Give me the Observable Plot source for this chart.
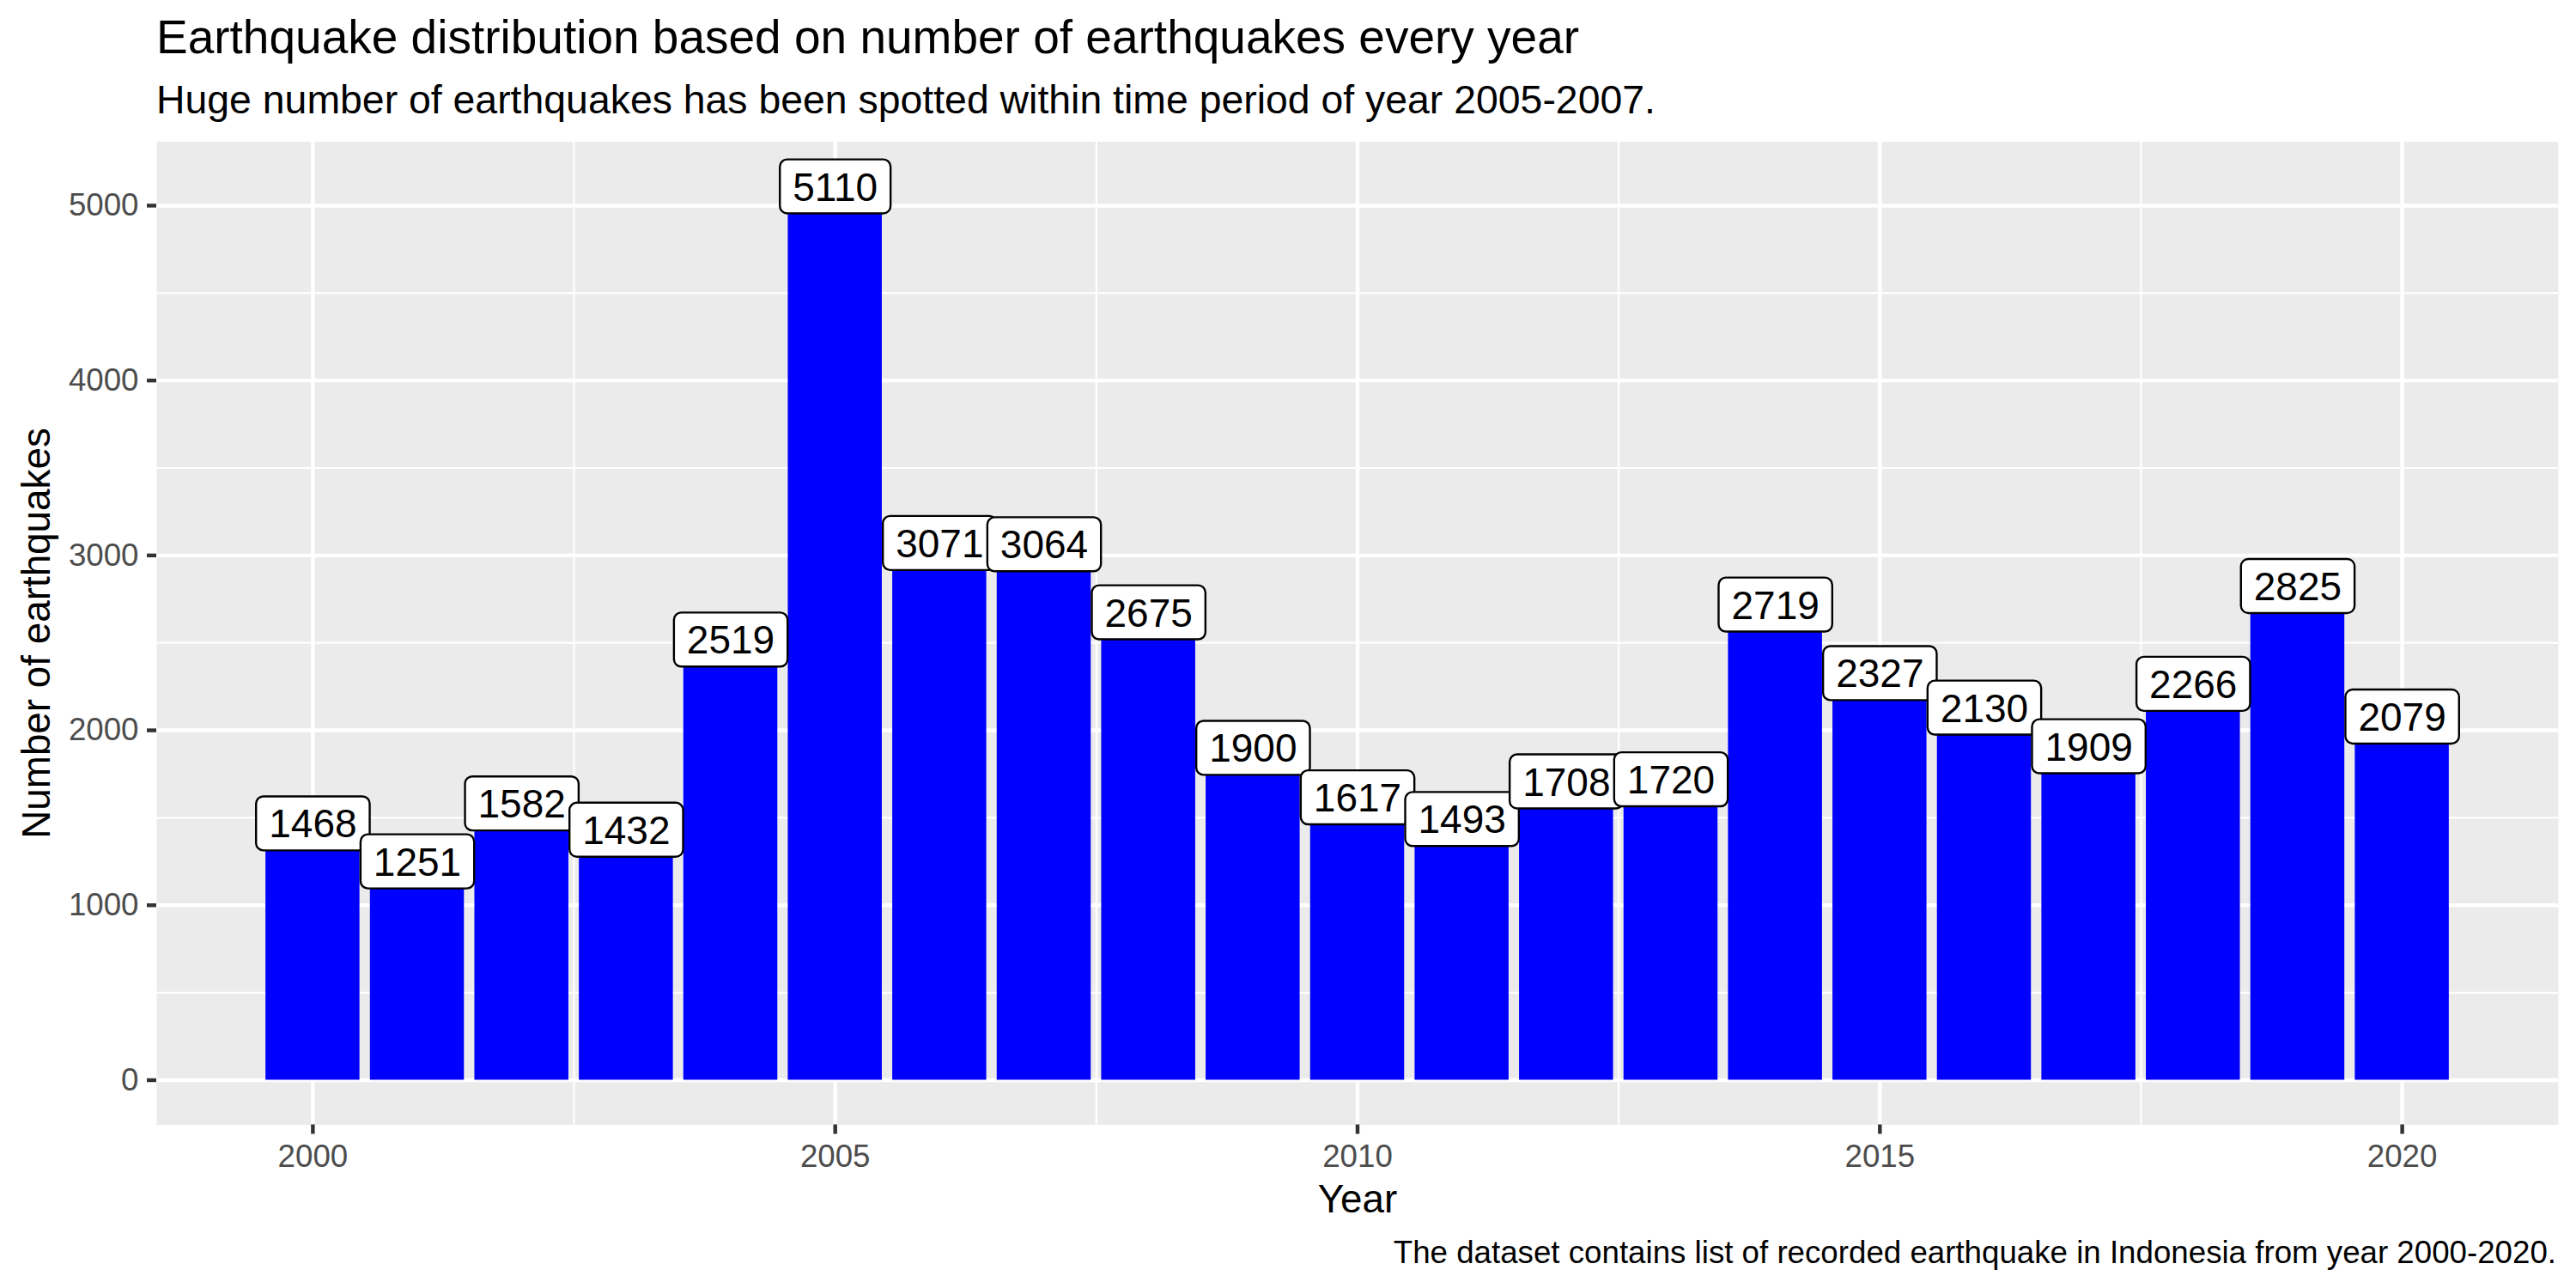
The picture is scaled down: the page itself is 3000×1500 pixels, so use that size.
<!DOCTYPE html>
<html>
<head>
<meta charset="utf-8">
<script src="https://cdn.jsdelivr.net/npm/d3@7"></script>
<script src="https://cdn.jsdelivr.net/npm/@observablehq/plot@0.6"></script>
<style>
html, body { margin: 0; padding: 0; background: #ffffff; }
#wrap { position: relative; width: 3000px; height: 1500px; background: #ffffff;
        font-family: "Liberation Sans", Arial, sans-serif; color: #000000; overflow: hidden; }
.t { position: absolute; white-space: nowrap; }
#title { left: 182px; top: 16.4px; font-size: 55px; line-height: 55px; }
#subtitle { left: 182px; top: 92.7px; font-size: 46.4px; line-height: 46.4px; }
#chart { position: absolute; left: 0; top: 150px; }
#caption { right: 23px; top: 1440.9px; font-size: 36.7px; line-height: 36.7px; text-align: right; }
</style>
</head>
<body>
<div id="wrap">
  <div id="title" class="t"></div>
  <div id="subtitle" class="t"></div>
  <div id="chart"></div>
  <div id="caption" class="t"></div>
</div>
<script>
// ---- data ----
const years = [2000, 2001, 2002, 2003, 2004, 2005, 2006, 2007, 2008, 2009, 2010,
               2011, 2012, 2013, 2014, 2015, 2016, 2017, 2018, 2019, 2020];
const counts = [1468, 1251, 1582, 1432, 2519, 5110, 3071, 3064, 2675, 1900, 1617,
                1493, 1708, 1720, 2719, 2327, 2130, 1909, 2266, 2825, 2079];
const xTicks = [2000, 2005, 2010, 2015, 2020];
const xTickLabels = ["2000", "2005", "2010", "2015", "2020"];
const xMinor = [2002.5, 2007.5, 2012.5, 2017.5];
const yTicks = [0, 1000, 2000, 3000, 4000, 5000];
const yTickLabels = ["0", "1000", "2000", "3000", "4000", "5000"];
const yMinor = [500, 1500, 2500, 3500, 4500];

const titleText = "Earthquake distribution based on number of earthquakes every year";
const subtitleText = "Huge number of earthquakes has been spotted within time period of year 2005-2007.";
const captionText = "The dataset contains list of recorded earthquake in Indonesia from year 2000-2020.";
const xTitle = "Year";
const yTitle = "Number of earthquakes";

document.getElementById("title").textContent = titleText;
document.getElementById("subtitle").textContent = subtitleText;
document.getElementById("caption").textContent = captionText;

const table = years.map((year, i) => ({year, count: counts[i], label: String(counts[i])}));

// ggplot-like scale expansion (5%)
const barHalf = 0.45;
const xLo = d3.min(years) - barHalf, xHi = d3.max(years) + barHalf;
const xPad = (xHi - xLo) * 0.05;
const yMax = d3.max(counts);
const yPad = yMax * 0.05;

const fontFamily = '"Liberation Sans", Arial, sans-serif';
const labelFs = 46;
const labelPad = 15;
const svgNS = "http://www.w3.org/2000/svg";
const ctx = document.createElement("canvas").getContext("2d");
ctx.font = `${labelFs}px "Liberation Sans", Arial, sans-serif`;

function labelBoxes(index, scales, values, dimensions, context, next) {
  const g = next(index, scales, values, dimensions, context);
  const texts = Array.from(g.querySelectorAll("text"));
  texts.forEach((t, j) => {
    const i = index[j];
    const w = ctx.measureText(table[i].label).width + 2 * labelPad;
    const h = labelFs * 0.716 + 2 * labelPad;
    const r = document.createElementNS(svgNS, "rect");
    r.setAttribute("x", values.x[i] - w / 2);
    r.setAttribute("y", values.y[i] - h / 2);
    r.setAttribute("width", w);
    r.setAttribute("height", h);
    r.setAttribute("rx", 8.5);
    r.setAttribute("ry", 8.5);
    r.setAttribute("fill", "#ffffff");
    r.setAttribute("stroke", "#000000");
    r.setAttribute("stroke-width", 2.4);
    t.setAttribute("y", (labelFs * 0.358).toFixed(2));
    t.parentNode.insertBefore(r, t);
  });
  return g;
}

const chart = Plot.plot({
  width: 3000,
  height: 1290,
  marginLeft: 182,
  marginRight: 21,
  marginTop: 14.5,
  marginBottom: 130.5,
  style: {fontFamily, background: "transparent", overflow: "visible"},
  x: {type: "linear", domain: [xLo - xPad, xHi + xPad], nice: false},
  y: {type: "linear", domain: [-yPad, yMax + yPad], nice: false},
  marks: [
    Plot.frame({fill: "#EBEBEB", stroke: "none"}),
    Plot.ruleY(yMinor, {stroke: "#ffffff", strokeWidth: 2.22}),
    Plot.ruleX(xMinor, {stroke: "#ffffff", strokeWidth: 2.22}),
    Plot.ruleY(yTicks, {stroke: "#ffffff", strokeWidth: 4.44}),
    Plot.ruleX(xTicks, {stroke: "#ffffff", strokeWidth: 4.44}),
    Plot.rect(table, {
      x1: d => d.year - barHalf, x2: d => d.year + barHalf,
      y1: 0, y2: "count", fill: "#0000FF"
    }),
    Plot.text(table, {
      x: "year", y: "count", text: "label",
      fontSize: labelFs, fill: "#000000", lineAnchor: "bottom",
      render: labelBoxes
    }),
    Plot.axisX({
      ticks: xTicks, tickFormat: d => xTickLabels[xTicks.indexOf(d)],
      tickSize: 11, tickPadding: 12, fontSize: 36.7,
      stroke: "#333333", strokeWidth: 4.44, fill: "#4D4D4D", label: null
    }),
    Plot.axisY({
      ticks: yTicks, tickFormat: d => yTickLabels[yTicks.indexOf(d)],
      tickSize: 11, tickPadding: 10, fontSize: 36.7,
      stroke: "#333333", strokeWidth: 4.44, fill: "#4D4D4D", label: null
    }),
    Plot.text([xTitle], {
      frameAnchor: "bottom", dy: 101.5, lineAnchor: "bottom",
      fontSize: 45.8, fill: "#000000"
    }),
    Plot.text([yTitle], {
      frameAnchor: "left", dx: -125, rotate: -90, lineAnchor: "bottom",
      textAnchor: "middle", fontSize: 45.8, fill: "#000000"
    })
  ]
});
document.getElementById("chart").appendChild(chart);
</script>
</body>
</html>
